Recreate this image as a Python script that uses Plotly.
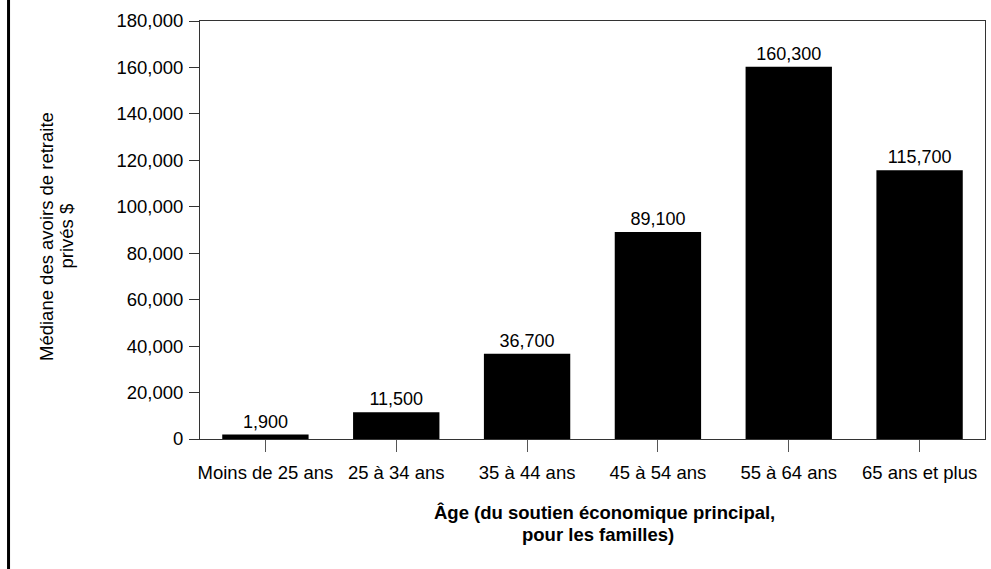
import plotly.graph_objects as go

categories = ["Moins de 25 ans", "25 à 34 ans", "35 à 44 ans", "45 à 54 ans", "55 à 64 ans", "65 ans et plus"]
values = [1900, 11500, 36700, 89100, 160300, 115700]
y_title_lines = ["Médiane des avoirs de retraite", "privés $"]
x_title_lines = ["Âge (du soutien économique principal,", "pour les familles)"]

FONT = "Liberation Sans, Arial, sans-serif"

fig = go.Figure()
fig.add_trace(go.Bar(
    x=categories, y=values,
    marker=dict(color="black", line=dict(width=0)),
    width=0.66,
    texttemplate="%{y:,}", textposition="outside",
    textfont=dict(size=18, color="black", family=FONT),
    cliponaxis=False,
    hoverinfo="skip",
))

fig.update_layout(
    width=991, height=569,
    margin=dict(l=200, r=6, t=21, b=130),
    plot_bgcolor="white", paper_bgcolor="white",
    font=dict(family=FONT, size=18, color="black"),
    showlegend=False,
    bargap=0.34,
)
fig.update_yaxes(
    range=[0, 180000], dtick=20000, tickformat=",d",
    showgrid=False, zeroline=False,
    showline=True, linecolor="#333", linewidth=1, mirror=True,
    ticks="outside", ticklen=10, tickcolor="#333",
    tickfont=dict(size=18.5),
    ticklabelstandoff=2,
)
fig.update_xaxes(
    showgrid=False,
    showline=True, linecolor="#333", linewidth=1, mirror=True,
    ticks="outside", ticklen=12, tickcolor="#555",
    tickfont=dict(size=18.5),
    ticklabelstandoff=5,
)

# Axis titles as annotations (for exact line spacing)
fig.add_annotation(text=y_title_lines[0], xref="paper", yref="paper",
                   x=-0.1962, y=0.4856, textangle=-90, showarrow=False,
                   xanchor="center", yanchor="middle", font=dict(size=18.5))
fig.add_annotation(text=y_title_lines[1], xref="paper", yref="paper",
                   x=-0.1713, y=0.4856, textangle=-90, showarrow=False,
                   xanchor="center", yanchor="middle", font=dict(size=18.5))
fig.add_annotation(text="<b>" + x_title_lines[0] + "</b>", xref="paper", yref="paper",
                   x=0.5159, y=-0.176, showarrow=False,
                   xanchor="center", yanchor="middle", font=dict(size=18.5))
fig.add_annotation(text="<b>" + x_title_lines[1] + "</b>", xref="paper", yref="paper",
                   x=0.507, y=-0.228, showarrow=False,
                   xanchor="center", yanchor="middle", font=dict(size=18.5))

fig.add_shape(type="line", xref="paper", yref="paper",
              x0=-0.2439, x1=-0.2439, y0=-0.32, y1=1.06,
              line=dict(color="black", width=3))

fig.write_html("out.html",
               config={"displayModeBar": False},
               post_script="document.body.style.margin='0';document.body.style.overflow='hidden';")
